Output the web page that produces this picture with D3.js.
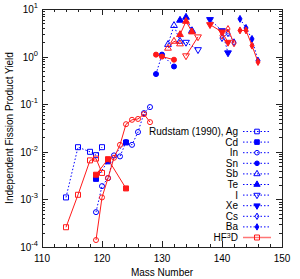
<!DOCTYPE html>
<html>
<head>
<meta charset="utf-8">
<script src="https://cdn.jsdelivr.net/npm/d3@7"></script>
<style>
  body { margin: 0; background: #fff; }
  text { font-family: "Liberation Sans", Arial, sans-serif; fill: #000; }
</style>
</head>
<body>
<div id="chart"></div>
<script>
// Rudstam (1990) measured yields (blue) and HF3D calculation (red), by element
const agMass = [114, 116, 118, 119, 120];
const agRud = [1.1e-3, 1.25e-2, 1.0e-2, 8.5e-3, 1.25e-2];
const agHF = [2.6e-4, 1.25e-3, 6.6e-3, 7.2e-3, 3.6e-3];

const cdMass = [119, 121, 124];
const cdRud = [2.7e-3, 6.3e-3, 1.57e-2];
const cdHF = [3.3e-3, 7.0e-3, 1.7e-3];

const inMass = [119, 120, 121, 122, 123, 124, 125, 126, 127, 128];
const inRud = [5.4e-4, 1.9e-3, 2.8e-3, 8.4e-3, 8.0e-3, 1.6e-2, 1.4e-2, 2.6e-2, 6.5e-2, 8.7e-2];
const inHF = [1.4e-4, 1.1e-3, 2.8e-3, 7.5e-3, 1.4e-2, 3.8e-2, 4.7e-2, 4.9e-2, 6.2e-2, 4.2e-2];

const snMass = [129, 130, 132];
const snRud = [0.43, 1.1, 0.62];
const snHF = [1.1, 1.0, 0.86];

const sbMass = [131, 132, 133];
const sbRud = [1.8, 4.5, 2.1];
const sbHF = [1.5, 2.1, 1.85];

const teMass = [133, 134, 135];
const teRud = [5.8, 6.7, 3.5];
const teHF = [2.9, 5.5, 3.3];

const iMass = [134, 136];
const iRud = [2.0, 1.4];
const iHF = [1.04, 2.6];

const xeMass = [138, 140, 141];
const xeRud = [6.0, 3.5, 1.2];
const xeHF = [4.7, 3.3, 2.0];

const csMass = [140, 141, 142];
const csRud = [2.45, 3.1, 2.0];
const csHF = [2.75, 3.8, 1.9];

const baMass = [143, 144, 145, 146];
const baRud = [6.2, 4.0, 2.35, 0.82];
const baHF = [3.55, 3.55, 1.7, 0.77];

const legendNames = ["Rudstam (1990), Ag", "Cd", "In", "Sn", "Sb", "Te", "I", "Xe", "Cs", "Ba"];
const xTicks = [110, 120, 130, 140, 150];
const yExps = [-4, -3, -2, -1, 0, 1];

const elements = [
  { mass: agMass, rud: agRud, hf: agHF, sym: d3.symbolSquare, fill: false, rot: 0 },
  { mass: cdMass, rud: cdRud, hf: cdHF, sym: d3.symbolSquare, fill: true, rot: 0 },
  { mass: inMass, rud: inRud, hf: inHF, sym: d3.symbolCircle, fill: false, rot: 0 },
  { mass: snMass, rud: snRud, hf: snHF, sym: d3.symbolCircle, fill: true, rot: 0 },
  { mass: sbMass, rud: sbRud, hf: sbHF, sym: d3.symbolTriangle, fill: false, rot: 0 },
  { mass: teMass, rud: teRud, hf: teHF, sym: d3.symbolTriangle, fill: true, rot: 0 },
  { mass: iMass, rud: iRud, hf: iHF, sym: d3.symbolTriangle, fill: false, rot: 180 },
  { mass: xeMass, rud: xeRud, hf: xeHF, sym: d3.symbolTriangle, fill: true, rot: 180 },
  { mass: csMass, rud: csRud, hf: csHF, sym: d3.symbolDiamond, fill: false, rot: 0 },
  { mass: baMass, rud: baRud, hf: baHF, sym: d3.symbolDiamond, fill: true, rot: 0 }
];

const W = 300, H = 279;
const margin = { top: 9, left: 42, bottom: 32, right: 18 };
const width = W - margin.left - margin.right;
const height = H - margin.top - margin.bottom;

const blue = "#0000ff", red = "#ff1a1a";
const fs = 10;

const svg = d3.select("#chart").append("svg")
  .attr("width", W).attr("height", H);
const g = svg.append("g")
  .attr("transform", `translate(${margin.left},${margin.top})`);

const x = d3.scaleLinear().domain([110, 150]).range([0, width]);
const y = d3.scaleLog().domain([1e-4, 10]).range([height, 0]);

// ticks, inward on all four sides
const ticks = g.append("g").attr("stroke", "#222").attr("stroke-width", 1);
for (let v = 110; v <= 150; v += 2) {
  const len = v % 10 === 0 ? 6 : 3;
  const px = Math.round(x(v)) + 0.5;
  ticks.append("line").attr("x1", px).attr("x2", px).attr("y1", height).attr("y2", height - len);
  ticks.append("line").attr("x1", px).attr("x2", px).attr("y1", 0).attr("y2", len);
}
yExps.forEach(e => {
  for (let m = 1; m <= 9; m++) {
    const v = m * Math.pow(10, e);
    if (v > 10) break;
    const len = m === 1 ? 6 : 3;
    const py = Math.round(y(v)) + 0.5;
    ticks.append("line").attr("x1", 0).attr("x2", len).attr("y1", py).attr("y2", py);
    ticks.append("line").attr("x1", width).attr("x2", width - len).attr("y1", py).attr("y2", py);
  }
});

// tick labels
g.selectAll(".xl").data(xTicks).join("text")
  .attr("x", d => x(d)).attr("y", height + 15)
  .attr("text-anchor", "middle").attr("font-size", fs)
  .text(d => d);

const yl = g.selectAll(".yl").data(yExps).join("text")
  .attr("x", -4).attr("y", d => y(Math.pow(10, d)) + 4)
  .attr("text-anchor", "end").attr("font-size", fs);
yl.append("tspan").text("10");
yl.append("tspan").attr("dy", -5).attr("font-size", 7.5).text(d => d < 0 ? "-" + (-d) : d);

// axis titles
svg.append("text")
  .attr("x", margin.left + width / 2).attr("y", 276)
  .attr("text-anchor", "middle").attr("font-size", fs)
  .text("Mass Number");
svg.append("text")
  .attr("transform", `translate(13,${margin.top + height / 2}) rotate(-90)`)
  .attr("text-anchor", "middle").attr("font-size", fs)
  .text("Independent Fission Product Yield");

const line = d3.line().x(d => x(d[0])).y(d => y(d[1]));

function marker(sel, el, color, k) {
  const size = { circle: 20, square: 25, triangle: 20, diamond: 14 };
  const key = el.sym === d3.symbolCircle ? "circle" : el.sym === d3.symbolSquare ? "square"
    : el.sym === d3.symbolTriangle ? "triangle" : "diamond";
  sel.attr("d", d3.symbol().type(el.sym).size(size[key] * k)())
    .attr("fill", el.fill ? color : "none")
    .attr("stroke", color).attr("stroke-width", 1);
}

const plot = g.append("g");
// measured data
elements.forEach(el => {
  const pts = el.mass.map((m, i) => [m, el.rud[i]]);
  plot.append("path").attr("d", line(pts))
    .attr("fill", "none").attr("stroke", blue).attr("stroke-width", 1)
    .attr("stroke-dasharray", "1.5,2");
  plot.selectAll(null).data(pts).join("path")
    .attr("transform", d => `translate(${x(d[0])},${y(d[1])}) rotate(${el.rot})`)
    .call(s => marker(s, el, blue, 1));
});
// HF3D calculation
elements.forEach(el => {
  const pts = el.mass.map((m, i) => [m, el.hf[i]]);
  plot.append("path").attr("d", line(pts))
    .attr("fill", "none").attr("stroke", red).attr("stroke-width", 1);
  plot.selectAll(null).data(pts).join("path")
    .attr("transform", d => `translate(${x(d[0])},${y(d[1])}) rotate(${el.rot})`)
    .call(s => marker(s, el, red, 1));
});

// frame
g.append("rect").attr("x", 0.5).attr("y", 0.5).attr("width", width).attr("height", height)
  .attr("fill", "none").attr("stroke", "#222").attr("stroke-width", 1);

// legend
const leg = svg.append("g");
const ly0 = 131.5, ldy = 10.6, ltx = 238, lx1 = 243, lx2 = 271, lmx = 257;
elements.forEach((el, i) => {
  const yy = ly0 + i * ldy;
  leg.append("text").attr("x", ltx).attr("y", yy + 3.5)
    .attr("text-anchor", "end").attr("font-size", fs).text(legendNames[i]);
  leg.append("line").attr("x1", lx1).attr("x2", lx2).attr("y1", yy).attr("y2", yy)
    .attr("stroke", blue).attr("stroke-dasharray", "1.5,2");
  leg.append("path").attr("transform", `translate(${lmx},${yy}) rotate(${el.rot})`)
    .call(s => marker(s, el, blue, 0.85));
});
const hy = ly0 + 10 * ldy;
const ht = leg.append("text").attr("x", ltx).attr("y", hy + 3.5)
  .attr("text-anchor", "end").attr("font-size", fs);
ht.append("tspan").text("HF");
ht.append("tspan").attr("dy", -3).attr("font-size", 7).text("3");
ht.append("tspan").attr("dy", 3).text("D");
leg.append("line").attr("x1", lx1).attr("x2", lx2).attr("y1", hy).attr("y2", hy)
  .attr("stroke", red).attr("stroke-width", 1.5).attr("stroke-opacity", 0.6);
leg.append("path").attr("transform", `translate(${lmx},${hy})`)
  .call(s => marker(s, elements[0], red, 1));
</script>
</body>
</html>
